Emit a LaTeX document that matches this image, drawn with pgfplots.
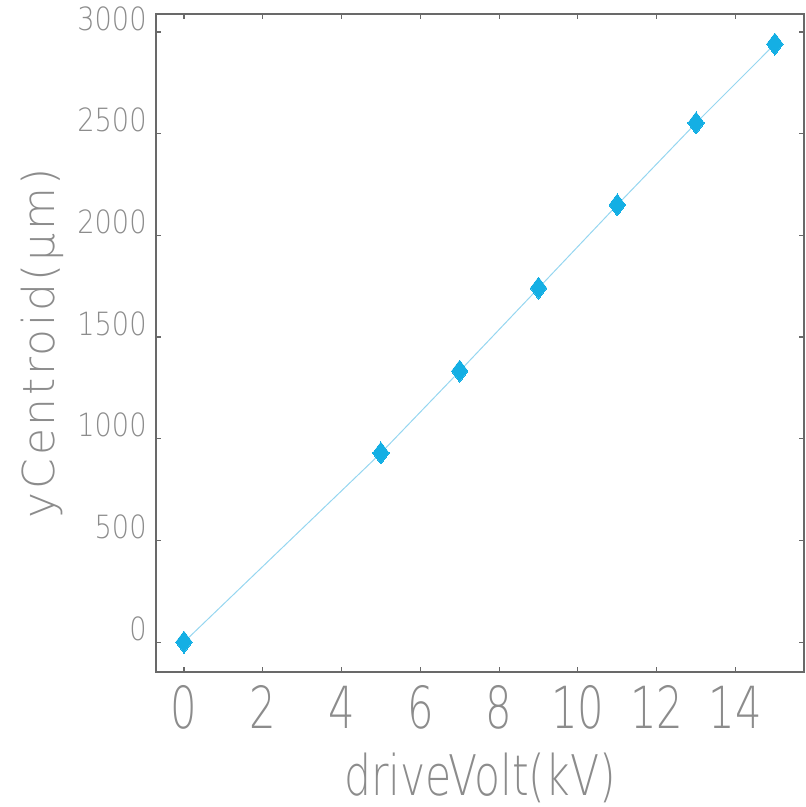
\documentclass[border=0pt]{standalone}
\usepackage{fontspec}
\setmainfont{DejaVu Sans ExtraLight}
\newfontfamily\xtickfont{DejaVu Sans ExtraLight}[FakeStretch=0.72]
\newfontfamily\ytickfont{DejaVu Sans ExtraLight}[FakeStretch=0.85]
\newfontfamily\xlabfont{DejaVu Sans ExtraLight}[FakeStretch=0.76]
\newfontfamily\ylabfont{DejaVu Sans ExtraLight}[LetterSpace=6]
\usepackage{pgfplots}
\pgfplotsset{compat=1.18}
\definecolor{txtgray}{RGB}{140,140,140}
\definecolor{axgray}{RGB}{105,105,105}
\definecolor{markblue}{RGB}{20,175,228}
\definecolor{lineblue}{RGB}{150,214,240}
\begin{document}
\begin{tikzpicture}
\path[use as bounding box] (0,0) rectangle (403pt,403.5pt);
\begin{axis}[
  at={(78pt,67.5pt)}, anchor=south west,
  scale only axis, width=324pt, height=329pt,
  xmin=-0.71, xmax=15.74, ymin=-147, ymax=3089,
  xtick={0,2,...,14}, ytick={0,500,...,3000},
  tick align=inside, major tick length=2.5pt,
  axis line style={axgray, line width=0.6pt},
  tick style={axgray, line width=0.6pt},
  /pgf/number format/assume math mode=true,
  /pgf/number format/1000 sep={},
  xticklabel style={font=\xtickfont\fontsize{29}{29}\selectfont, text=txtgray, anchor=base, inner sep=0pt, yshift=-28pt},
  yticklabel style={font=\ytickfont\fontsize{16}{16}\selectfont, text=txtgray, anchor=base east, inner sep=0pt, xshift=-4.5pt, yshift=1pt},
  xlabel={driveVolt(kV)},
  ylabel={yCentroid(μm)},
  xlabel style={font=\xlabfont\fontsize{28}{28}\selectfont, text=txtgray, at={(axis description cs:0.5,-0.187)}, anchor=base, inner sep=0pt},
  ylabel style={font=\ylabfont\fontsize{22}{22}\selectfont, text=txtgray, at={(axis description cs:-0.156,0.5)}, anchor=base, inner sep=0pt},
]
\addplot[color=lineblue, line width=0.5pt, mark=diamond*, mark size=5.5pt, mark options={fill=markblue, draw=markblue, line width=0pt}]
  coordinates {(0,0) (5,930) (7,1333) (9,1741) (11,2150) (13,2553) (15,2941)};
\end{axis}
\end{tikzpicture}
\end{document}
